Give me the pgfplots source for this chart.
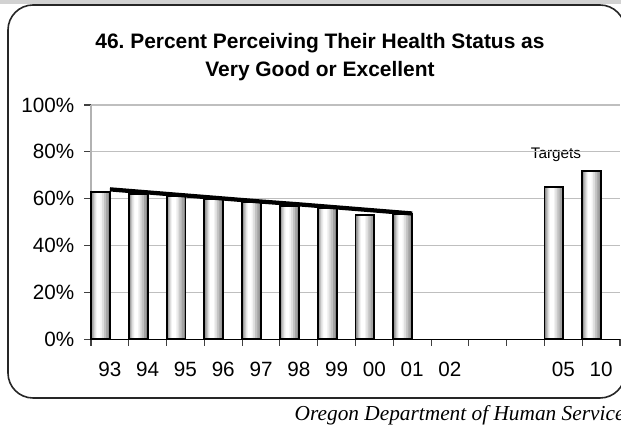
\documentclass[border=0pt]{standalone}
\usepackage{fontspec}
\setmainfont{Liberation Sans}
\newfontfamily\timesfont{Liberation Serif}
\usepackage{pgfplots}
\usepackage{pgfplotstable}
\pgfplotsset{compat=1.18}

% bars sit in the left half of each year slot (slot k spans k-0.5..k+0.5)
\pgfplotstableread{
x      y
-0.25  63
0.75   62
1.75   61
2.75   60
3.75   58.5
4.75   57
5.75   56
6.75   53
7.75   53.5
11.75  65
12.75  72
}\bars

\pgfplotsset{
  layer/.style n args={3}{ybar, bar width=#1, bar shift=#2, draw=none, fill=#3, forget plot},
}

\begin{document}
\begin{tikzpicture}
\useasboundingbox (0,0) rectangle (465.75pt,320.25pt);
\clip (0,0) rectangle (465.75pt,320.25pt);
\begin{scope}[x=0.75pt,y=0.75pt]
% page header strip and rounded chart frame
\fill[gray!35] (0,423) rectangle (621,427);
\draw[black!85, line width=1.2pt, rounded corners=18.75pt] (8,29) rectangle (625,422);
\node[font=\fontsize{15.7}{21}\selectfont\bfseries, align=center] at (320,370)
  {46.\ Percent Perceiving Their Health Status as\\Very Good or Excellent};
\node[font=\fontsize{11.5}{14}\selectfont] at (556,272) {Targets};
\node[font=\fontsize{16}{19}\selectfont\timesfont\itshape, anchor=west] at (290,12)
  {Oregon Department of Human Services};
\end{scope}

\begin{axis}[
  at={(68.25pt,65.78pt)}, anchor=south west,
  scale only axis, width=396.75pt, height=175.7pt,
  xmin=-0.5, xmax=13.5, ymin=0, ymax=100,
  axis lines*=left, axis line style={-},
  x axis line style={black, line width=0.9pt},
  y axis line style={gray!60, line width=0.8pt},
  xtick={0,...,9,12,13},
  xticklabels={93,94,95,96,97,98,99,00,01,02,05,10},
  minor xtick={-0.5,0.5,...,13.5},
  ytick={0,20,...,100},
  yticklabel={\pgfmathprintnumber{\tick}\%},
  tick pos=left, tick align=outside,
  every major x tick/.append style={draw=none},
  every minor x tick/.append style={black!75, line width=0.8pt},
  every major y tick/.append style={black!75, line width=0.8pt},
  major tick length=5pt, minor tick length=5pt,
  ymajorgrids, grid style={gray!50, line width=0.8pt},
  tick label style={font=\fontsize{15.5}{18}\selectfont},
  xticklabel style={yshift=-8.5pt},
  yticklabel style={xshift=-4pt},
  /pgf/number format/assume math mode=true,
  clip=false,
]
% stepped fills give the cylinder-like shading of each bar
\addplot[layer={0.5}{0}{black!48}] table {\bars};
\addplot[layer={0.43}{-0.005}{black!36}] table {\bars};
\addplot[layer={0.34}{-0.02}{black!24}] table {\bars};
\addplot[layer={0.25}{-0.035}{black!13}] table {\bars};
\addplot[layer={0.17}{-0.045}{black!5}] table {\bars};
\addplot[layer={0.10}{-0.05}{white}] table {\bars};
% bar outlines
\addplot[ybar, bar width=0.5, bar shift=0, draw=black, line width=1.4pt, fill=none] table {\bars};
% trend line
\addplot[black, line width=3.2pt, no marks]
  coordinates {(0,64.0) (1,62.7) (2,61.4) (3,60.1) (4,58.8)
               (5,57.6) (6,56.3) (7,55.0) (8,53.7)};
\end{axis}
\end{tikzpicture}
\end{document}
